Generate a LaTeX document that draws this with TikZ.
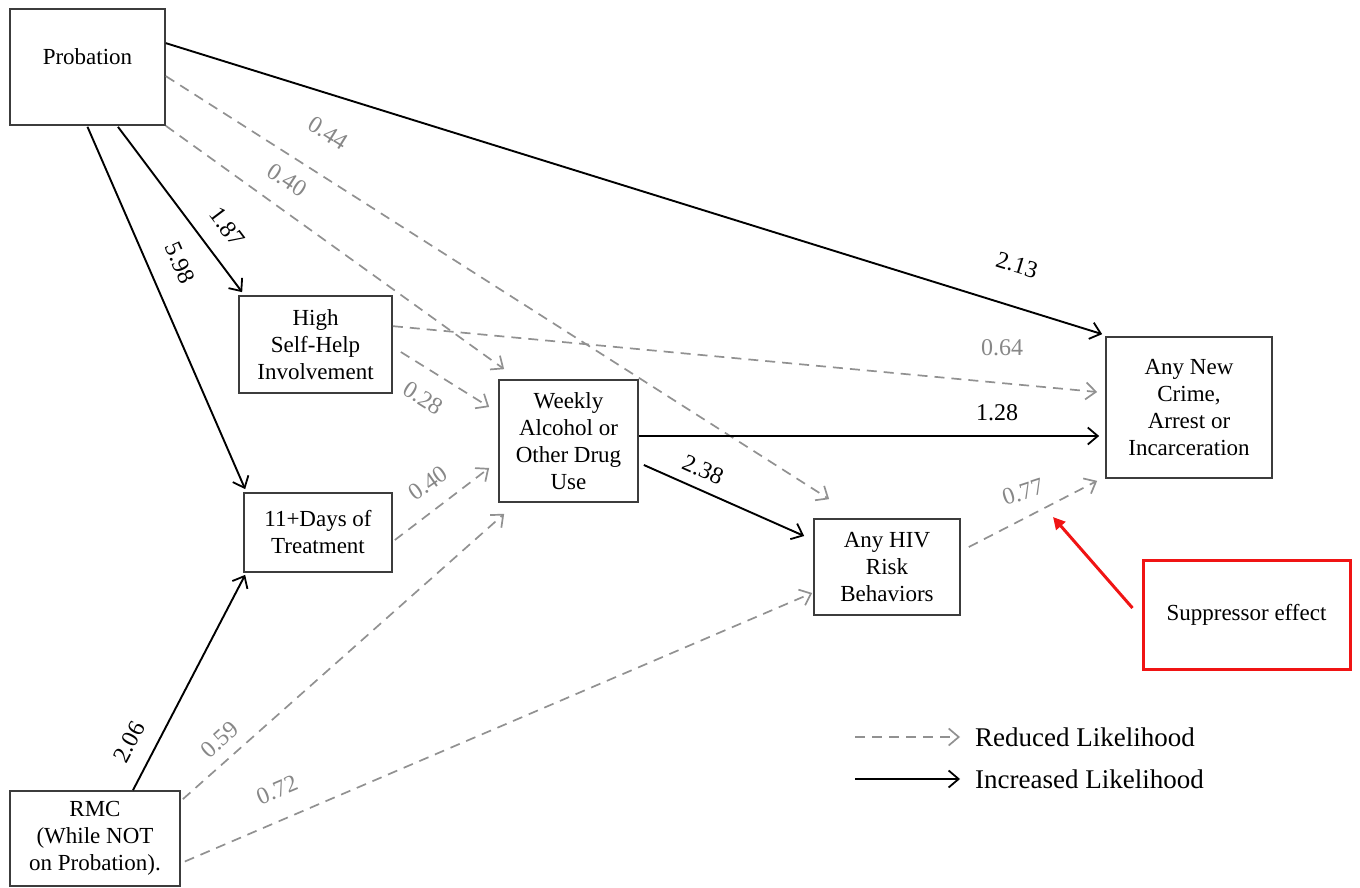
\documentclass[tikz,border=0pt]{standalone}
\usepackage{fontspec}
\setmainfont{Liberation Serif}
\usetikzlibrary{arrows.meta}
\definecolor{boxgray}{RGB}{60,60,60}
\definecolor{dashgray}{RGB}{145,145,145}
\definecolor{labgray}{RGB}{135,135,135}
\definecolor{supred}{RGB}{240,20,20}
\tikzset{
  box/.style={draw=boxgray, line width=1.7pt, inner sep=0pt, align=center, font=\fontsize{23}{27}\selectfont},
  posarrow/.style={draw=black, line width=1.9pt, -{Straight Barb[length=10pt,width=17pt,line width=1.8pt]}},
  negarrow/.style={draw=dashgray, line width=1.7pt, dash pattern=on 10pt off 7pt, -{Straight Barb[length=10pt,width=17pt,line width=1.7pt]}},
  poslab/.style={font=\fontsize{24}{28}\selectfont, text=black, inner sep=0pt},
  neglab/.style={font=\fontsize{24}{28}\selectfont, text=labgray, inner sep=0pt},
}
\begin{document}
\begin{tikzpicture}[x=1pt,y=-1pt]
\useasboundingbox (0,0) rectangle (1360,888);
% boxes
\node[box, minimum width=155pt, minimum height=116pt] (prob) at (87.5,67) {};
\node[font=\fontsize{23}{27}\selectfont, inner sep=0pt] (probtxt) at (87.5,57) {Probation};
\node[box, minimum width=153pt, minimum height=97pt] (help) at (315.5,344.5) {High\\Self-Help\\Involvement};
\node[box, minimum width=139pt, minimum height=122pt] (weekly) at (568.5,441) {Weekly\\Alcohol or\\Other Drug\\Use};
\node[box, minimum width=148pt, minimum height=79pt] (days) at (318,532.5) {11+Days of\\Treatment};
\node[box, minimum width=146pt, minimum height=96pt] (hiv) at (887,567) {Any HIV\\Risk\\Behaviors};
\node[box, minimum width=166pt, minimum height=141pt] (crime) at (1189,407.5) {Any New\\Crime,\\Arrest or\\Incarceration};
\node[box, draw=supred, line width=3pt, minimum width=207pt, minimum height=109pt] (supp) at (1246.5,614.5) {Suppressor effect};
\node[box, minimum width=170pt, minimum height=95pt] (rmc) at (95,838.5) {RMC\\(While NOT\\on Probation).};
% connectors
\draw[posarrow] ([shift={(0,35)}]prob.north east) -- ([shift={(-3,-2)}]crime.north west);
\draw[negarrow] ([shift={(0,68)}]prob.north east) -- ([shift={(16,-19)}]hiv.north west);
\draw[negarrow] (prob.south east) -- ([shift={(6,-10)}]weekly.north west);
\draw[posarrow] ([shift={(30.5,1)}]prob.south) -- ([shift={(4,-3)}]help.north west);
\draw[posarrow] ([shift={(0,1)}]prob.south) -- ([shift={(2,-3)}]days.north west);
\draw[negarrow] ([shift={(0,31)}]help.north east) -- ([shift={(-8,-15.5)}]crime.west);
\draw[negarrow] ([shift={(8,7.5)}]help.east) -- ([shift={(-9,-34)}]weekly.west);
\draw[negarrow] ([shift={(2,7.5)}]days.east) -- ([shift={(-9,27)}]weekly.west);
\draw[negarrow] ([shift={(2,9)}]rmc.north east) -- ([shift={(6,11)}]weekly.south west);
\draw[negarrow] ([shift={(4,23)}]rmc.east) -- ([shift={(-1,26)}]hiv.west);
\draw[posarrow] ([shift={(38,0)}]rmc.north) -- ([shift={(2,2)}]days.south west);
\draw[posarrow] ([shift={(0,-5)}]weekly.east) -- ([shift={(-6,28.5)}]crime.west);
\draw[posarrow] ([shift={(5,24)}]weekly.east) -- ([shift={(-9,-31)}]hiv.west);
\draw[negarrow] ([shift={(8,-20)}]hiv.east) -- ([shift={(-8,2)}]crime.south west);
\coordinate (suptip) at (1053,517);
\draw[draw=supred, line width=3pt, -{Triangle[length=12pt,width=12pt]}] ([shift={(-9,-6.5)}]supp.west) -- (suptip);
% labels
\node[poslab, rotate=-17] (l213) at (1017,265) {2.13};
\node[neglab, rotate=-32] (l044) at (328,133) {0.44};
\node[neglab, rotate=-33] (l040a) at (287,180) {0.40};
\node[poslab, rotate=-53] (l187) at (227,227) {1.87};
\node[poslab, rotate=-66] (l598) at (180,263) {5.98};
\node[neglab] (l064) at (1002,348) {0.64};
\node[neglab, rotate=-32] (l028) at (423,398) {0.28};
\node[neglab, rotate=35] (l040b) at (428,483) {0.40};
\node[neglab, rotate=42] (l059) at (220,740) {0.59};
\node[neglab, rotate=23] (l072) at (277,790) {0.72};
\node[poslab, rotate=62] (l206) at (129,742) {2.06};
\node[poslab] (l128) at (997,413) {1.28};
\node[poslab, rotate=-24] (l238) at (703,470) {2.38};
\node[neglab, rotate=18] (l077) at (1023,492) {0.77};
% legend
\coordinate (ld1) at (855,737);
\coordinate (ld2) at (960,737);
\coordinate (ls1) at (855,779);
\coordinate (ls2) at (960,779);
\draw[negarrow] (ld1) -- (ld2);
\draw[posarrow] (ls1) -- (ls2);
\node[anchor=west, inner sep=0pt, font=\fontsize{27}{30}\selectfont] (lt1) at (975,737) {Reduced Likelihood};
\node[anchor=west, inner sep=0pt, font=\fontsize{27}{30}\selectfont] (lt2) at (975,779) {Increased Likelihood};
\end{tikzpicture}
\end{document}
